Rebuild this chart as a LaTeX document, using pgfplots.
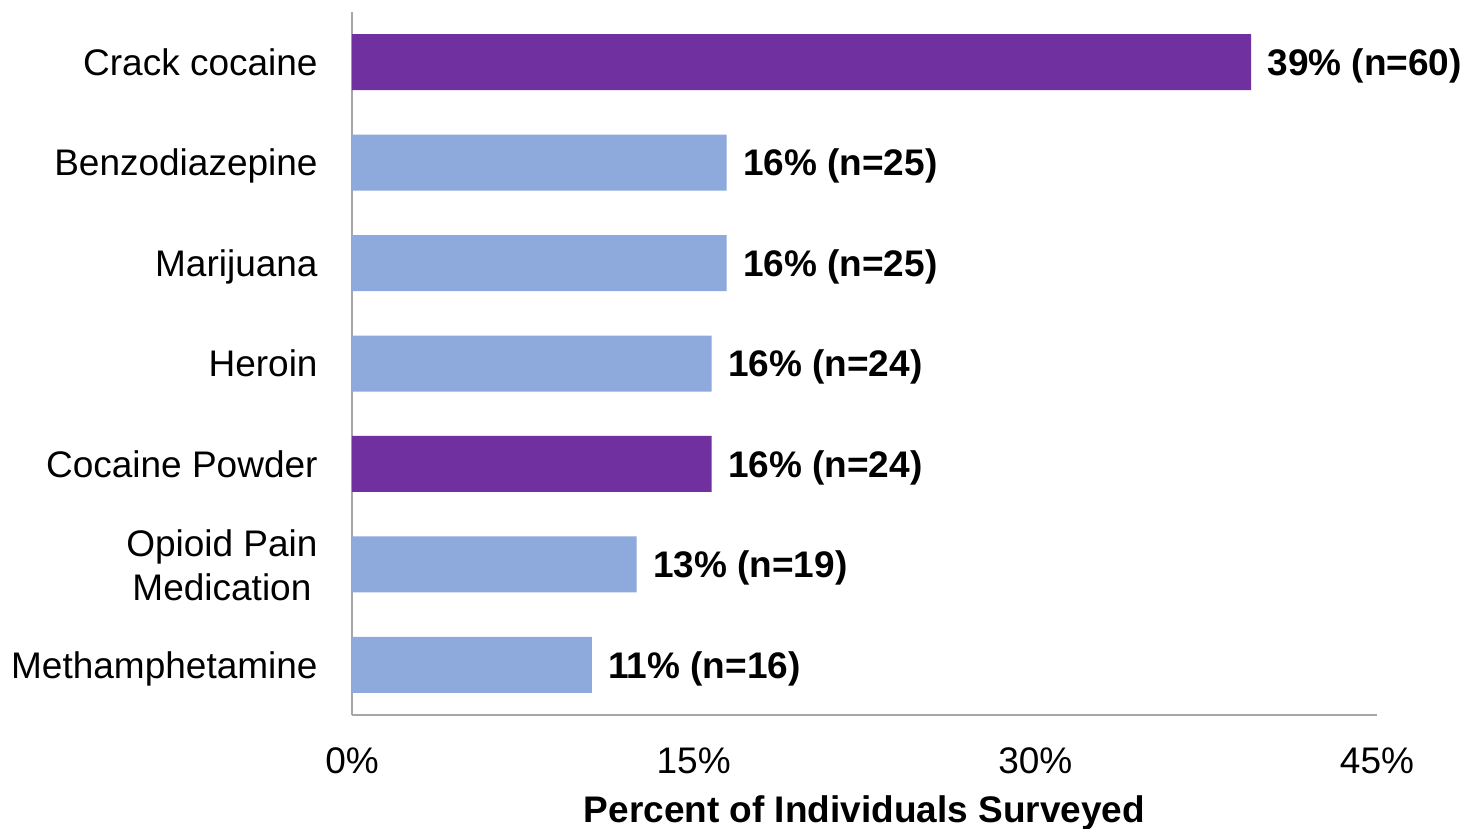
\documentclass[border=0pt]{standalone}
\usepackage{pgfplots}
\pgfplotsset{compat=1.18}
\usepackage{fontspec}
\setmainfont{Liberation Sans}
\definecolor{barpurple}{RGB}{112,48,160}
\definecolor{barblue}{RGB}{142,169,219}
\definecolor{axisgray}{RGB}{166,166,166}
\begin{document}
\fontsize{18.5}{22}\selectfont
\begin{tikzpicture}
\begin{axis}[
    name=ax,
    scale only axis,
    width=512.5pt,
    height=351.5pt,
    xbar,
    bar width=28pt,
    xmin=0, xmax=45,
    ymin=-0.5, ymax=6.5,
    y dir=reverse,
    axis x line*=bottom,
    axis y line*=left,
    axis line style={axisgray, line width=1pt},
    major tick length=0pt,
    xtick={0,15,30,45},
    xticklabel={\pgfmathprintnumber[assume math mode=true]{\tick}\%},
    xticklabel style={anchor=base, yshift=-29pt, font=\fontsize{18.5}{22}\selectfont},
    ytick={0,...,6},
    yticklabels={Crack cocaine, Benzodiazepine, Marijuana, Heroin, Cocaine Powder,
        {\raisebox{-0.5pt}{\smash{\begin{tabular}{@{}c@{}}Opioid Pain\\Medication\end{tabular}}}},
        Methamphetamine},
    yticklabel style={anchor=east, inner sep=0pt, xshift=-17pt, text height=0.916em, text depth=0.2em,
        font=\fontsize{18.5}{22}\selectfont},
    xlabel={\bfseries Percent of Individuals Surveyed},
    xlabel style={at={(axis description cs:0.5,0)}, anchor=base, yshift=-53.5pt, font=\fontsize{18.5}{22}\selectfont},
    nodes near coords,
    point meta=explicit symbolic,
    nodes near coords style={font=\fontsize{18.5}{22}\selectfont\bfseries, anchor=west, inner sep=0pt,
        xshift=8pt, text height=0.916em, text depth=0.2em},
]
\addplot[fill=barpurple, draw=none, bar shift=0pt] coordinates {
    (39.47,0) [39\% (n=60)]
    (15.79,4) [16\% (n=24)]
};
\addplot[fill=barblue, draw=none, bar shift=0pt] coordinates {
    (16.45,1) [16\% (n=25)]
    (16.45,2) [16\% (n=25)]
    (15.79,3) [16\% (n=24)]
    (12.50,5) [13\% (n=19)]
    (10.53,6) [11\% (n=16)]
};
\end{axis}
\pgfresetboundingbox
\path[use as bounding box] ([shift={(-176pt,-57pt)}]ax.south west) rectangle ([shift={(556pt,357.5pt)}]ax.south west);
\end{tikzpicture}
\end{document}
